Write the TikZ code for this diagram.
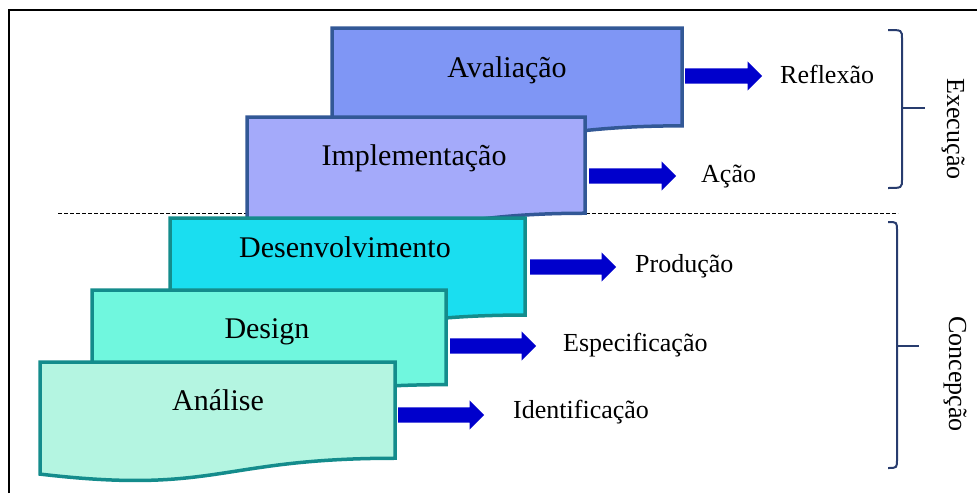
\documentclass[tikz,border=0pt]{standalone}
\usepackage{fontspec}
\setmainfont{Liberation Serif}
\usetikzlibrary{shapes.arrows}

\definecolor{avalfill}{RGB}{127,150,245}
\definecolor{implfill}{RGB}{164,170,250}
\definecolor{desenfill}{RGB}{26,222,240}
\definecolor{designfill}{RGB}{112,247,222}
\definecolor{analfill}{RGB}{180,245,225}
\definecolor{blueline}{RGB}{50,88,150}
\definecolor{tealline}{RGB}{20,140,140}
\definecolor{arrowblue}{RGB}{0,0,204}
\definecolor{braceblue}{RGB}{40,60,110}

% document shape: left, top, right, height, fill, border
\newcommand{\docbox}[6]{%
  \pgfmathsetmacro{\docmid}{(#1+#3)/2}
  \filldraw[fill=#5, draw=#6, line width=3.5pt, line join=miter]
    (#1,#2) -- (#3,#2) -- (#3,#2+0.802*#4)
    .. controls (\docmid,#2+0.802*#4) and (\docmid,#2+1.1075*#4) .. (#1,#2+0.934*#4) -- cycle;
}

\begin{document}
\begin{tikzpicture}[x=1pt, y=-1pt,
    boxlabel/.style={font=\fontsize{30}{36}\selectfont, anchor=base, inner sep=0pt},
    sidelabel/.style={font=\fontsize{26}{31}\selectfont, anchor=base west, inner sep=0pt},
    blockarrow/.style={single arrow, fill=arrowblue, draw=none, anchor=west,
      inner sep=0pt, inner ysep=7.5pt, single arrow head extend=7pt,
      minimum height=#1},
    braceline/.style={draw=braceblue, line width=2pt}]
    \useasboundingbox (0,0) rectangle (977,493);

    % frame
    \draw[line width=2pt] (9,493) -- (9,10) -- (977,10);

    % dividing line
    \draw[dash pattern=on 4pt off 2pt, line width=1pt] (58,213) -- (898,213);

    % steps, back to front
    \docbox{332}{28}{682}{122}{avalfill}{blueline}
    \docbox{247}{117}{585}{120}{implfill}{blueline}
    \docbox{170}{218}{525}{121}{desenfill}{tealline}
    \docbox{92}{290}{446}{118}{designfill}{tealline}
    \docbox{40}{362}{395}{120}{analfill}{tealline}

    \node[boxlabel] (aval) at (507,77) {Avaliação};
    \node[boxlabel] (impl) at (414,165) {Implementação};
    \node[boxlabel] (desen) at (345,257) {Desenvolvimento};
    \node[boxlabel] (design) at (267,338) {Design};
    \node[boxlabel] (anal) at (218,410) {Análise};

    % block arrows
    \node[blockarrow=77pt] (a1) at (685,76) {};
    \node[blockarrow=87pt] (a2) at (589,176) {};
    \node[blockarrow=86pt] (a3) at (530,267) {};
    \node[blockarrow=86pt] (a4) at (450,346) {};
    \node[blockarrow=86pt] (a5) at (398,415) {};

    % results
    \node[sidelabel] (refl) at (780,83) {Reflexão};
    \node[sidelabel] (acao) at (701,182) {Ação};
    \node[sidelabel] (prod) at (635,272) {Produção};
    \node[sidelabel] (espec) at (563,351) {Especificação};
    \node[sidelabel] (ident) at (513,418) {Identificação};

    % braces
    \foreach \yt/\ym/\yb/\xv/\xt in {30/108/188/902/925, 222/346/468/897/919} {
      \draw[braceline] (888,\yt) .. controls (\xv,\yt) .. (\xv,\yt+9)
        -- (\xv,\yb-9) .. controls (\xv,\yb) .. (888,\yb);
      \draw[braceline] (\xv,\ym) -- (\xt,\ym);
    }
    \node[rotate=-90, font=\fontsize{26}{31}\selectfont] (exec) at (953,129) {Execução};
    \node[rotate=-90, font=\fontsize{26}{31}\selectfont] (conc) at (955,374) {Concepção};
\end{tikzpicture}
\end{document}
